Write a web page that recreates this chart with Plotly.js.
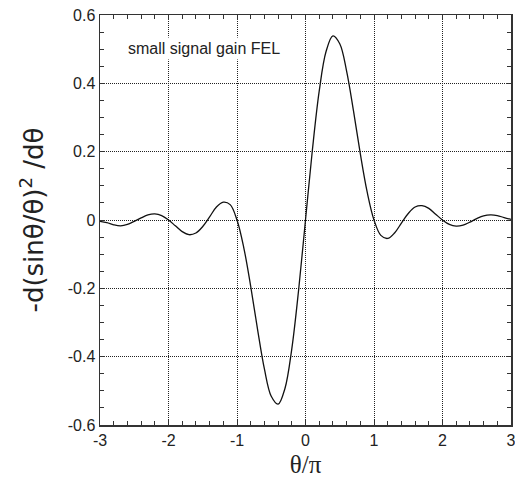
<!DOCTYPE html>
<html>
<head>
<meta charset="utf-8">
<script src="https://cdn.plot.ly/plotly-3.0.1.min.js"></script>
<style>html,body{margin:0;padding:0;background:#fff;}#chart{width:515px;height:484px;}</style>
</head>
<body>
<div id="chart"></div>
<script>
// theta/pi values
const thetaOverPi = [
  -3.0,-2.9,-2.8,-2.7,-2.6,-2.5,-2.4,-2.3,-2.2,-2.1,
  -2.0,-1.9,-1.8,-1.7,-1.6,-1.5,-1.4,-1.3,-1.2,-1.1,
  -1.0,-0.9,-0.8,-0.7,-0.6,-0.5,-0.4,-0.3,-0.2,-0.1,
   0.0, 0.1, 0.2, 0.3, 0.4, 0.5, 0.6, 0.7, 0.8, 0.9,
   1.0, 1.1, 1.2, 1.3, 1.4, 1.5, 1.6, 1.7, 1.8, 1.9,
   2.0, 2.1, 2.2, 2.3, 2.4, 2.5, 2.6, 2.7, 2.8, 2.9, 3.0
];
// gain curve -d(sin θ/θ)^2/dθ
const gain = [
  -0.004,-0.008,-0.014,-0.017,-0.013,-0.004, 0.006, 0.015, 0.018, 0.013,
   0.000,-0.017,-0.034,-0.043,-0.038,-0.019, 0.009, 0.038, 0.052, 0.045,
   0.000,-0.082,-0.194,-0.320,-0.436,-0.516,-0.539,-0.493,-0.377,-0.204,
   0.000, 0.204, 0.377, 0.493, 0.539, 0.516, 0.436, 0.320, 0.194, 0.082,
   0.000,-0.045,-0.054,-0.038,-0.009, 0.019, 0.038, 0.042, 0.034, 0.017,
   0.000,-0.013,-0.018,-0.015,-0.006, 0.004, 0.012, 0.015, 0.013, 0.007, 0.002
];
const xTickVals = [-3,-2,-1,0,1,2,3];
const xTickText = ['-3','-2','-1','0','1','2','3'];
const yTickVals = [-0.6,-0.4,-0.2,0,0.2,0.4,0.6];
const yTickText = ['-0.6','-0.4','-0.2','0','0.2','0.4','0.6'];
const noteText = 'small signal gain FEL';

const axisCommon = {
  showline: true, linecolor: '#333', linewidth: 1.5, mirror: 'ticks',
  ticks: 'inside', ticklen: 5, tickcolor: '#333', tickwidth: 1,
  showgrid: true, gridcolor: '#222', griddash: '1px,1px', gridwidth: 1,
  zeroline: false, tickmode: 'array', ticklabeloverflow: 'allow',
  tickfont: {family: 'Liberation Sans, Arial, sans-serif', size: 16, color: '#222'}
};

const layout = {
  width: 515, height: 484,
  margin: {l: 100, r: 4, t: 15, b: 59},
  paper_bgcolor: '#fff', plot_bgcolor: '#fff',
  showlegend: false,
  xaxis: Object.assign({}, axisCommon, {
    range: [-3, 3], tickvals: xTickVals, ticktext: xTickText,
    minor: {dtick: 0.2, tick0: 0, ticks: 'inside', ticklen: 4, tickcolor: '#333', showgrid: false},
    title: {text: 'θ/π', font: {family: 'Liberation Serif, Times New Roman, serif', size: 25, color: '#222'}, standoff: 8}
  }),
  yaxis: Object.assign({}, axisCommon, {
    range: [-0.6, 0.6], tickvals: yTickVals, ticktext: yTickText,
    minor: {dtick: 0.05, tick0: 0, ticks: 'inside', ticklen: 4, tickcolor: '#333', showgrid: false},
    title: {text: '-d(sinθ/θ)<sup>2</sup> /dθ', font: {family: 'DejaVu Sans, sans-serif', size: 26, color: '#222'}, standoff: 16}
  }),
  annotations: [{
    x: -2.635, y: 0.5025, xref: 'x', yref: 'y', xanchor: 'left', yanchor: 'middle',
    text: noteText, showarrow: false, bgcolor: '#fff', borderpad: 2,
    font: {family: 'Liberation Sans, Arial, sans-serif', size: 16, color: '#222'}
  }]
};

Plotly.newPlot('chart', [{
  x: thetaOverPi, y: gain, type: 'scatter', mode: 'lines',
  line: {color: '#111', width: 1.3, shape: 'spline', smoothing: 1}
}], layout, {displayModeBar: false, staticPlot: true});
</script>
</body>
</html>
